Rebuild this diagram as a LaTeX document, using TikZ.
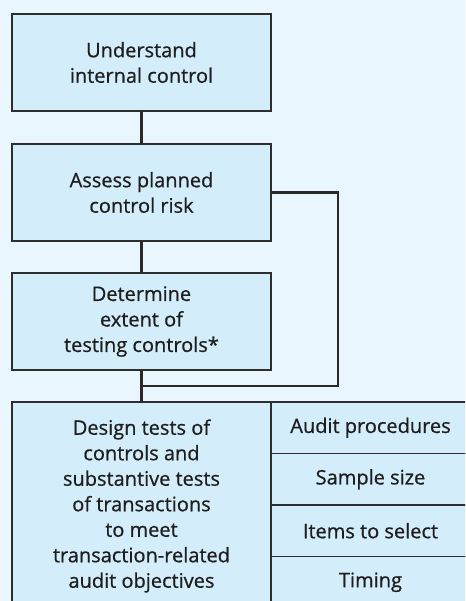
\documentclass[tikz,border=0pt]{standalone}
\usepackage{fontspec}
\setmainfont[FakeBold=0.7]{Open Sans}
\definecolor{pagebg}{HTML}{EAF6FD}
\definecolor{boxfill}{HTML}{D3EDFB}
\definecolor{edge}{HTML}{2E2E2E}
\definecolor{ink}{HTML}{1E1E1E}
\begin{document}
\begin{tikzpicture}[x=1pt,y=-1pt,
  stage/.style={draw=edge, fill=boxfill, line width=1.5pt, minimum width=259pt,
    minimum height=97pt, align=center, inner sep=0pt, outer sep=0pt,
    font=\fontsize{20}{25.5}\selectfont, text=ink},
  cell/.style={draw=edge, fill=boxfill, line width=1.5pt, minimum width=199pt,
    minimum height=51.5pt, inner sep=0pt, outer sep=0pt,
    font=\fontsize{20}{25.5}\selectfont, text=ink},
  link/.style={draw=edge!90!black, line width=2.6pt}]
  \useasboundingbox (0,0) rectangle (465,601);
  \clip (0,0) rectangle (465,601);
  \fill[pagebg] (0,0) rectangle (465,601);

  % main sequence of planning steps
  \node[stage] (understand) at (141.5,62.5) {Understand\\internal control};
  \node[stage] (assess) at (141.5,192.5) {Assess planned\\control risk};
  \node[stage] (extent) at (141.5,321.5) {Determine\\extent of\\testing controls*};
  \node[stage, minimum height=208pt] (design) at (141.5,506)
    {Design tests of\\controls and\\substantive tests\\of transactions\\to meet\\transaction-related\\audit objectives};

  % decisions listed beside the design step
  \node[cell] (procedures) at (370.5,427.75) {Audit procedures};
  \node[cell] (sample) at (370.5,479.25) {Sample size};
  \node[cell] (items) at (370.5,530.75) {Items to select};
  \node[cell] (timing) at (370.5,582.25) {Timing};

  % connectors
  \coordinate (join) at (141.5,386);
  \coordinate (loopcorner) at (338,192.5);
  \draw[link] (understand.south) -- (assess.north);
  \draw[link] (assess.south) -- (extent.north);
  \draw[link] (extent.south) -- (design.north);
  \draw[link, line join=miter] (assess.east) -- (loopcorner) |- (join);
\end{tikzpicture}
\end{document}
